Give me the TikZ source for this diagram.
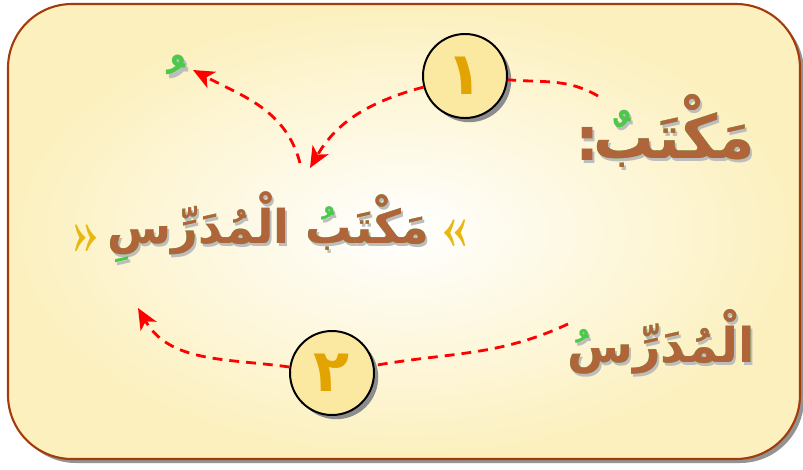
\documentclass[tikz,border=0pt]{standalone}
\usepackage{fontspec}
\usetikzlibrary{arrows.meta,shadows}
\newfontfamily\arabicfont[Script=Arabic]{DejaVu Sans}
\TeXXeTstate=1

\definecolor{framebrown}{HTML}{A33C0A}
\definecolor{bgyellow}{HTML}{FCF0BE}
\definecolor{wordbrown}{HTML}{B0643A}
\definecolor{markgreen}{HTML}{4CC84C}
\definecolor{shadowgray}{HTML}{BDBDBD}
\definecolor{quoteyellow}{HTML}{E8B812}
\definecolor{circfill}{HTML}{FBE9A2}
\definecolor{digitorange}{HTML}{E2A400}

\tikzset{
  word/.style={font=\fontsize{#1}{#1}\arabicfont\bfseries, anchor=base east, inner sep=0pt},
  word/.default=33,
  dashline/.style={red, line width=2pt, dash pattern=on 7pt off 5pt},
  tip/.style={-{Stealth[length=15pt, width=13pt, inset=4pt]}},
  numcirc/.style={circle, draw=black, line width=1.4pt, fill=circfill, minimum size=84*0.025cm,
    inner sep=0pt, text=digitorange, font=\fontsize{42}{42}\arabicfont\bfseries,
    drop shadow={shadow xshift=3pt, shadow yshift=-3pt, fill=gray!90, opacity=1}},
  quote/.style={text=quoteyellow, font=\fontsize{40}{40}\bfseries\selectfont, inner sep=0pt}
}

\begin{document}
\begin{tikzpicture}[x=0.025cm, y=0.025cm]
  \useasboundingbox (0,0) rectangle (803,469);

  % frame
  \fill[gray!85, rounded corners=1.6cm] (12,6) rectangle (804,461);
  \shade[rounded corners=1.6cm, inner color=white, outer color=bgyellow] (8,10) rectangle (800,465);
  \draw[framebrown, line width=1.5pt, rounded corners=1.6cm] (8,10) rectangle (800,465);

  % word 1 (top right)
  \node[word=43, text=shadowgray] (w1s) at (757,308) {\beginR مَكْتَبٌ\endR};
  \node[word=43, text=markgreen] (w1g) at (755,311) {\beginR مَكْتَبٌ\endR};
  \node[word=43, text=wordbrown] (w1) at (755,311) {\beginR مَكْتَب\endR};
  \node[word=43, anchor=base, text=shadowgray] (cols) at (590,306) {:};
  \node[word=43, anchor=base, text=wordbrown] (col) at (588,309) {:};

  % word 2 (bottom right)
  \node[word=34, text=shadowgray] (w2s) at (757,104) {\beginR الْمُدَرِّسُ\endR};
  \node[word=34, text=markgreen] (w2g) at (755,107) {\beginR الْمُدَرِّسُ\endR};
  \node[word=34, text=wordbrown] (w2) at (755,107) {\beginR الْمُدَرِّس\endR};

  % middle phrase
  \node[word, text=shadowgray] (w3s) at (432,223) {\beginR مَكْتَبُ الْمُدَرِّسِ\endR};
  \node[word, text=markgreen] (w3g) at (430,226) {\beginR مَكْتَبُ الْمُدَرِّسِ\endR};
  \node[word, text=wordbrown] (w3) at (430,226) {\beginR مَكْتَب الْمُدَرِّس\endR};
  \node[quote] (qr) at (455,236) {«};
  \node[quote] (ql) at (86,231) {»};

  % lone damma
  \begin{scope}
    \clip (140,376) rectangle (220,440);
    \node[word=48, anchor=base, text=shadowgray] (dms) at (179,351) {ـُ};
    \node[word=48, anchor=base, text=markgreen] (dm) at (176,354) {ـُ};
  \end{scope}

  % circles
  \node[numcirc] (c1) at (465,393) {١};
  \node[numcirc] (c2) at (332,96) {٢};

  % ends of the dashed lines
  \coordinate (tw) at (598,373);
  \coordinate (tipA) at (310,301);
  \coordinate (startC) at (300,306);
  \coordinate (tipC) at (193,399);
  \coordinate (md) at (568,145);
  \coordinate (tipD) at (138,161);

  \draw[dashline] (tw) to[out=150, in=-5] (c1);
  \draw[dashline, tip] (c1) to[out=195, in=60] (tipA);
  \draw[dashline, tip] (startC) to[out=105, in=-28] (tipC);
  \draw[dashline] (md) to[out=205, in=10] (c2);
  \draw[dashline, tip] (c2) to[out=172, in=-60] (tipD);

\end{tikzpicture}
\end{document}
